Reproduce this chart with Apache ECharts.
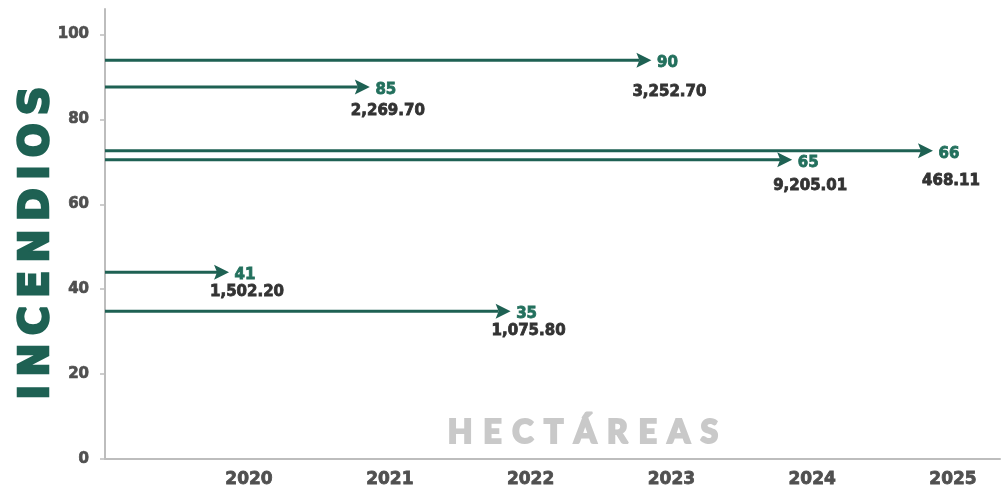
<!DOCTYPE html>
<html>
<head>
<meta charset="utf-8">
<script src="https://cdn.jsdelivr.net/npm/echarts@6.0.0/dist/echarts.min.js"></script>
<style>
  html, body { margin: 0; padding: 0; background: #ffffff; }
  #chart { width: 1005px; height: 491px; }
</style>
</head>
<body>
<div id="chart"></div>
<script>
// ---- data ----
const years          = [2023, 2021, 2025, 2024, 2020, 2022];
const arrowLevels    = [93.9, 87.6, 72.6, 70.5, 44.0, 34.8];   // vertical level of each arrow (y axis units)
const hectareLevels  = [86.4, 81.9, 65.4, 64.2, 39.3, 30.2];   // vertical level of each hectare label (y axis units)
const incendios      = [90, 85, 66, 65, 41, 35];
const hectareas      = [3252.70, 2269.70, 468.11, 9205.01, 1502.20, 1075.80];
const xTickYears     = [2020, 2021, 2022, 2023, 2024, 2025];
const yTickValues    = [0, 20, 40, 60, 80, 100];
const yAxisTitle     = 'INCENDIOS';
const xAxisTitle     = 'HECTÁREAS';

const GREEN = '#1e6153';
const NUMFONT = '"DejaVu Sans", sans-serif';

const fmt = v => v.toLocaleString('en-US', { minimumFractionDigits: 2, maximumFractionDigits: 2 });

const seriesData = years.map((yr, i) => [yr, arrowLevels[i], incendios[i], fmt(hectareas[i]), hectareLevels[i]]);

const chart = echarts.init(document.getElementById('chart'), null, { renderer: 'canvas' });

chart.setOption({
  backgroundColor: '#ffffff',
  animation: false,
  grid: { left: 105, right: 5, top: 9, bottom: 32, containLabel: false },
  xAxis: {
    type: 'value',
    min: 2018.977,
    max: 2025.334,
    splitLine: { show: false },
    axisLine: { show: true, lineStyle: { color: '#bdbdbd', width: 2 } },
    axisTick: { show: false },
    axisLabel: {
      customValues: xTickYears,
      formatter: v => String(Math.round(v)),
      color: '#505050',
      fontFamily: NUMFONT,
      fontWeight: 'bold',
      fontSize: 17,
      margin: 12,
      textBorderColor: '#505050',
      textBorderWidth: 0.8
    }
  },
  yAxis: {
    type: 'value',
    min: 0,
    max: 106,
    splitLine: { show: false },
    axisLine: { show: true, lineStyle: { color: '#bdbdbd', width: 2 } },
    axisTick: { show: true, length: 5, customValues: yTickValues, lineStyle: { color: '#bdbdbd', width: 1.5 } },
    axisLabel: {
      customValues: yTickValues,
      color: '#505050',
      fontFamily: NUMFONT,
      fontWeight: 'bold',
      fontSize: 15,
      margin: 16,
      textBorderColor: '#505050',
      textBorderWidth: 0.7
    }
  },
  graphic: [
    {
      type: 'text',
      x: 38, y: 243,
      rotation: Math.PI / 2,
      style: {
        text: yAxisTitle.split('').join('\u2009'),
        fill: GREEN,
        stroke: GREEN,
        lineWidth: 2.5,
        font: 'bold 40px "DejaVu Sans", sans-serif',
        align: 'center',
        verticalAlign: 'middle'
      }
    },
    {
      type: 'text',
      x: 583, y: 433,
      style: {
        text: xAxisTitle.split('').join('\u2004'),
        fill: '#c9c9c9',
        stroke: '#c9c9c9',
        lineWidth: 2,
        font: '900 32px Lato, sans-serif',
        align: 'center',
        verticalAlign: 'middle'
      }
    }
  ],
  series: [{
    type: 'custom',
    data: seriesData,
    clip: false,
    renderItem: function (params, api) {
      const cs = params.coordSys;
      const end = api.coord([api.value(0), api.value(1)]);
      const lab = api.coord([api.value(0), api.value(4)]);
      const tipX = end[0] - 20;
      const ly = end[1];
      const headLen = 15, headHalf = 7.5;
      return {
        type: 'group',
        children: [
          {
            type: 'line',
            shape: { x1: cs.x, y1: ly, x2: tipX - headLen + 3, y2: ly },
            style: { stroke: GREEN, lineWidth: 3 }
          },
          {
            type: 'polygon',
            shape: { points: [[tipX, ly], [tipX - headLen, ly - headHalf], [tipX - headLen + 3, ly], [tipX - headLen, ly + headHalf]] },
            style: { fill: GREEN }
          },
          {
            type: 'text',
            style: {
              x: end[0] - 4, y: ly + 3,
              text: String(api.value(2)),
              fill: '#23705d',
              stroke: '#23705d',
              lineWidth: 0.8,
              font: 'bold 15px ' + NUMFONT,
              align: 'center', verticalAlign: 'middle'
            }
          },
          {
            type: 'text',
            style: {
              x: lab[0] - 2, y: lab[1],
              text: String(api.value(3)),
              fill: '#333333',
              stroke: '#333333',
              lineWidth: 0.8,
              font: 'bold 15px ' + NUMFONT,
              align: 'center', verticalAlign: 'middle'
            }
          }
        ]
      };
    }
  }]
});
</script>
</body>
</html>
